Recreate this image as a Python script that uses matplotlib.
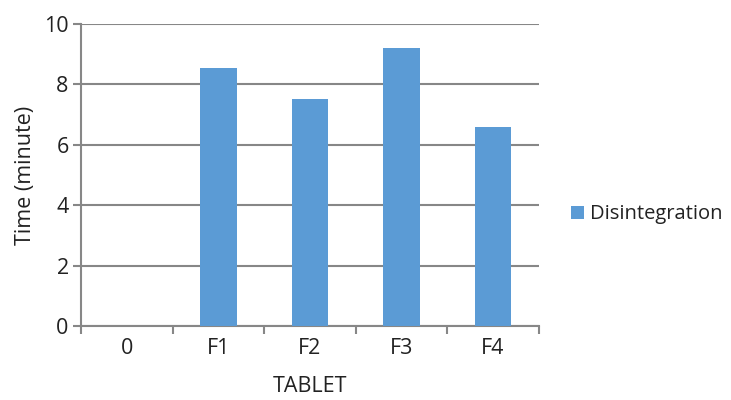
import matplotlib
matplotlib.use("Agg")
import matplotlib.pyplot as plt
import numpy as np

# Data
tablets = ["0", "F1", "F2", "F3", "F4"]
disintegration = [0, 8.55, 7.5, 9.2, 6.6]

plt.rcParams["font.family"] = ["Open Sans", "DejaVu Sans"]
fs = 15.5

fig = plt.figure(figsize=(7.31, 4.0), dpi=100)
ax = fig.add_axes([0.111, 0.185, 0.626, 0.755])

x = np.arange(len(tablets))
ax.bar(x, disintegration, width=0.4, color="#5B9BD5", label="Disintegration", zorder=3)

ax.set_xlim(-0.5, len(tablets) - 0.5)
ax.set_ylim(0, 10)
ax.set_yticks([0, 2, 4, 6, 8, 10])
ax.yaxis.grid(True, color="#878787", linewidth=1.5, zorder=0)

# category labels in the middle, tick marks on the boundaries
ax.set_xticks(x)
ax.set_xticklabels(tablets)
ax.set_xticks(np.arange(-0.5, len(tablets)), minor=True)
ax.tick_params(axis="x", which="major", length=0, pad=9, labelsize=fs, labelcolor="#222222")
ax.tick_params(axis="x", which="minor", length=6, width=1.5, color="#878787")
ax.tick_params(axis="y", length=6, width=1.5, color="#878787", labelsize=fs, labelcolor="#222222", pad=3)

for side in ["top", "right"]:
    ax.spines[side].set_visible(False)
for side in ["left", "bottom"]:
    ax.spines[side].set_color("#878787")
    ax.spines[side].set_linewidth(1.5)

ax.set_ylabel("Time (minute)", fontsize=fs, color="#222222", labelpad=6)
ax.set_xlabel("TABLET", fontsize=fs, color="#222222", labelpad=12)

ax.legend(loc="center left", bbox_to_anchor=(1.045, 0.37), frameon=False,
          fontsize=14.5, handlelength=0.6, handleheight=0.6, handletextpad=0.3,
          labelcolor="#222222", borderaxespad=0.2)

fig.savefig("out.png", dpi=100)
